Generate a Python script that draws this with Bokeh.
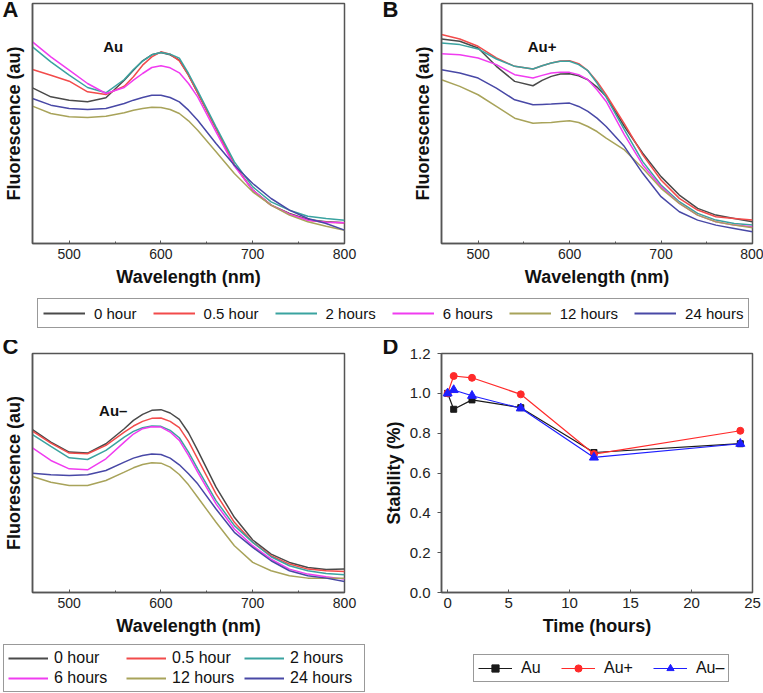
from bokeh.plotting import figure
from bokeh.layouts import column, row
from bokeh.models import (Range1d, FixedTicker, Legend, LegendItem, Label,
                          NumeralTickFormatter)
from bokeh.embed import file_html
from bokeh.resources import INLINE

FONT = "Liberation Sans"
AX = "#555555"
NAN = float("nan")

# ---------------- data ----------------
wavelength = [460, 480, 500, 520, 540, 560, 570, 580, 590, 600, 610,
              620, 630, 640, 660, 680, 700, 720, 740, 760, 780, 800]

series_labels = ["0 hour", "0.5 hour", "2 hours", "6 hours", "12 hours", "24 hours"]
series_colors = ["#4a4a4a", "#f24b4b", "#3aa3a0", "#f03cf0", "#a8a35a", "#4848a6"]

# Panel A (Au) - arbitrary fluorescence units
a_0h = [467, 440, 430, 425, 437, 490, 520, 548, 566, 573, 566, 550, 505, 452, 345, 235, 160, 115, 90, 72, 65, 62]
a_05h = [522, 505, 487, 455, 447, 472, 500, 535, 560, 575, 568, 548, 505, 452, 345, 235, 160, 115, 88, 70, 64, 62]
a_2h = [590, 545, 505, 468, 452, 492, 522, 547, 566, 573, 568, 556, 510, 458, 350, 245, 170, 125, 100, 82, 75, 70]
a_6h = [605, 560, 520, 480, 450, 468, 490, 510, 528, 533, 527, 512, 480, 440, 335, 232, 160, 115, 88, 70, 64, 62]
a_12h = [412, 390, 380, 378, 382, 392, 400, 405, 409, 408, 402, 390, 368, 340, 275, 210, 155, 115, 85, 65, 52, 40]
a_24h = [435, 415, 405, 402, 405, 420, 430, 438, 445, 445, 438, 425, 400, 370, 300, 235, 180, 135, 100, 75, 60, 40]

# Panel B (Au+)
b_0h = [612, 605, 585, 530, 485, 472, 488, 500, 507, 508, 502, 490, 468, 440, 350, 270, 200, 145, 105, 85, 75, 65]
b_05h = [625, 612, 590, 555, 530, 522, 532, 540, 546, 547, 538, 517, 485, 445, 358, 265, 190, 135, 100, 80, 75, 70]
b_2h = [600, 595, 582, 552, 530, 522, 532, 540, 545, 545, 535, 517, 480, 438, 340, 245, 175, 125, 90, 70, 60, 55]
b_6h = [568, 565, 555, 535, 505, 495, 503, 510, 512, 512, 505, 490, 460, 425, 325, 235, 170, 120, 85, 65, 55, 50]
b_12h = [490, 470, 445, 410, 375, 360, 361, 362, 365, 367, 362, 350, 335, 315, 280, 225, 165, 120, 85, 65, 55, 47]
b_24h = [520, 510, 495, 465, 430, 415, 416, 417, 419, 420, 410, 395, 375, 350, 290, 210, 140, 95, 70, 55, 45, 35]

# Panel C (Au-)
c_0h = [487, 450, 420, 417, 445, 490, 515, 533, 545, 547, 537, 518, 478, 425, 315, 225, 157, 115, 90, 75, 69, 70]
c_05h = [483, 447, 417, 415, 440, 480, 498, 512, 521, 522, 512, 493, 452, 400, 295, 210, 150, 110, 85, 70, 65, 63]
c_2h = [472, 437, 403, 398, 425, 465, 482, 493, 498, 497, 485, 463, 420, 370, 275, 200, 150, 107, 80, 65, 57, 53]
c_6h = [433, 395, 370, 367, 400, 450, 474, 490, 496, 495, 480, 455, 410, 360, 265, 190, 140, 100, 70, 55, 47, 40]
c_12h = [347, 330, 320, 320, 335, 360, 373, 383, 388, 387, 375, 353, 322, 285, 210, 140, 90, 65, 50, 43, 43, 43]
c_24h = [357, 352, 350, 352, 365, 390, 402, 410, 414, 413, 402, 382, 355, 325, 250, 180, 135, 95, 65, 50, 43, 33]

# Panel D (stability)
time_h = [0, 0.5, 2, 6, 12, 24]
stab_au = [1.0, 0.92, 0.967, 0.928, 0.703, 0.747]
stab_au_plus = [1.0, 1.087, 1.078, 0.995, 0.695, 0.812]
stab_au_minus = [1.0, 1.017, 0.988, 0.925, 0.678, 0.747]
stab_labels = ["Au", "Au+", "Au\u2013"]

wl_ticks = [500, 600, 700, 800]
wl_minor = [550, 650, 750]
time_ticks = [0, 5, 10, 15, 20, 25]
stab_ticks = [0.0, 0.2, 0.4, 0.6, 0.8, 1.0, 1.2]


def style_axes(p, tick_size="14px"):
    p.grid.visible = False
    p.outline_line_color = AX
    p.outline_line_width = 1.5
    for ax in p.axis:
        ax.axis_line_color = AX
        ax.axis_line_width = 1.5
        ax.major_tick_line_color = AX
        ax.minor_tick_line_color = AX
        ax.major_label_text_font = FONT
        ax.major_label_text_font_size = tick_size
        ax.major_label_text_color = "#222222"
        ax.axis_label_text_font = FONT
        ax.axis_label_text_font_style = "bold"
        ax.axis_label_text_font_size = "18px"
        ax.axis_label_text_color = "#111111"


def letter(p, txt, dx, standoff, valign):
    # panel letter drawn as the plot title, pulled left of the frame
    t = p.title
    t.text = txt
    t.align = "left"
    t.vertical_align = valign
    t.offset = dx
    t.standoff = standoff
    t.text_font = FONT
    t.text_font_style = "bold"
    t.text_font_size = "22px"
    t.text_color = "#111111"


def spectrum_panel(width, height, mbl, mbr, mbt, mbb, ymax, curves, tag, tag_x, tag_y,
                   let, let_dx, let_standoff, let_valign):
    p = figure(width=width, height=height, x_range=Range1d(460, 800), y_range=Range1d(0, ymax),
               output_backend="svg", toolbar_location=None,
               min_border_left=mbl, min_border_right=mbr, min_border_top=mbt, min_border_bottom=mbb)
    for ys, c in zip(curves, series_colors):
        p.line(wavelength, ys, line_color=c, line_width=1.5)
    style_axes(p)
    p.xaxis.ticker = FixedTicker(ticks=wl_ticks, minor_ticks=wl_minor)
    p.xaxis.major_tick_in = 3
    p.xaxis.major_tick_out = 0
    p.xaxis.minor_tick_in = 2
    p.xaxis.minor_tick_out = 0
    p.xaxis.major_label_standoff = 5
    p.xaxis.axis_label = "Wavelength (nm)"
    p.xaxis.axis_label_standoff = 5
    p.yaxis.ticker = FixedTicker(ticks=[])
    p.yaxis.major_tick_line_color = None
    p.yaxis.minor_tick_line_color = None
    p.yaxis.axis_label = "Fluorescence (au)"
    p.yaxis.axis_label_standoff = 9
    p.add_layout(Label(x=tag_x, y=tag_y, text=tag, text_font=FONT, text_font_style="bold",
                       text_font_size="15px", text_align="center", text_baseline="middle",
                       text_color="#111111"))
    letter(p, let, let_dx, let_standoff, let_valign)
    return p


def make_legend(items, loc, font_size, glyph_width, spacing, standoff, padding,
                label_width=20, ncols=None):
    kw = dict(items=items, location=loc, orientation="horizontal",
              label_text_font=FONT, label_text_font_size=font_size, label_text_color="#111111",
              glyph_width=glyph_width, glyph_height=18, label_height=18,
              label_width=label_width, label_standoff=standoff, spacing=spacing,
              padding=padding, margin=0, border_line_color="#333333", border_line_width=1.2,
              background_fill_alpha=0)
    if ncols is not None:
        kw["ncols"] = ncols
    return Legend(**kw)


def blank_fig(width, height):
    p = figure(width=width, height=height, x_range=Range1d(0, 1), y_range=Range1d(0, 1),
               output_backend="svg", toolbar_location=None, min_border=0,
               x_axis_location=None, y_axis_location=None)
    p.grid.visible = False
    p.outline_line_color = None
    return p


def legend_items(p, labels, colors, markers=None, lw=2):
    items = []
    for i, (lab, col) in enumerate(zip(labels, colors)):
        rs = [p.line([NAN], [NAN], line_color=col, line_width=lw)]
        if markers is not None:
            mk, sz = markers[i]
            rs.append(p.scatter([NAN], [NAN], marker=mk, size=sz, fill_color=col, line_color=col))
        items.append(LegendItem(label=lab, renderers=rs))
    return items


pA = spectrum_panel(380, 292, 32, 36, 3, 49, 720,
                    [a_0h, a_05h, a_2h, a_6h, a_12h, a_24h], "Au", 548, 590,
                    "A", -30, -36, "bottom")
pB = spectrum_panel(383, 292, 61, 11, 3, 49, 718,
                    [b_0h, b_05h, b_2h, b_6h, b_12h, b_24h], "Au+", 570, 588,
                    "B", -59, -36, "bottom")
pC = spectrum_panel(380, 300, 32, 36, 13, 48, 715,
                    [c_0h, c_05h, c_2h, c_6h, c_12h, c_24h], "Au\u2013", 548, 545,
                    "C", -30, -40, "top")

# Panel D
pD = figure(width=383, height=300, x_range=Range1d(-0.5, 25), y_range=Range1d(0, 1.2),
            output_backend="svg", toolbar_location=None,
            min_border_left=61, min_border_right=11, min_border_top=13, min_border_bottom=48)
d_colors = ["#1a1a1a", "#ff2a2a", "#1e1eff"]
d_markers = [("square", 6), ("circle", 7), ("triangle", 9)]
for ys, col, (mk, sz) in zip([stab_au, stab_au_plus, stab_au_minus], d_colors, d_markers):
    pD.line(time_h, ys, line_color=col, line_width=1.2)
    pD.scatter(time_h, ys, marker=mk, size=sz, fill_color=col, line_color=col)
style_axes(pD, tick_size="15px")
pD.xaxis.ticker = FixedTicker(ticks=time_ticks)
pD.yaxis.ticker = FixedTicker(ticks=stab_ticks)
pD.yaxis.formatter = NumeralTickFormatter(format="0.0")
pD.xaxis.major_tick_in = 3
pD.xaxis.major_tick_out = 0
pD.yaxis.major_tick_in = 0
pD.yaxis.major_tick_out = 4
pD.xaxis.major_label_standoff = 5
pD.yaxis.major_label_standoff = 7
pD.xaxis.axis_label = "Time (hours)"
pD.yaxis.axis_label = "Stability (%)"
pD.xaxis.axis_label_standoff = 5
pD.yaxis.axis_label_standoff = 3
letter(pD, "D", -59, -40, "top")

# shared legend for A and B
legTop = blank_fig(763, 48)
legTop.add_layout(make_legend(legend_items(legTop, series_labels, series_colors),
                              (37, 12), "15px", 42, spacing=16, standoff=9, padding=5))

# bottom strip with the legends of C and D
legBottom = blank_fig(763, 53)
legBottom.add_layout(make_legend(legend_items(legBottom, series_labels, series_colors),
                                 (3, 1), "16px", 40, spacing=2, standoff=6, padding=4,
                                 label_width=70, ncols=3))
legBottom.add_layout(make_legend(legend_items(legBottom, stab_labels, d_colors, d_markers, 1.2),
                                 (473, 11), "16px", 34, spacing=20, standoff=9, padding=4))

layout = column(row(pA, pB), legTop, row(pC, pD), legBottom)

open("out.html", "w").write(file_html(layout, INLINE))
